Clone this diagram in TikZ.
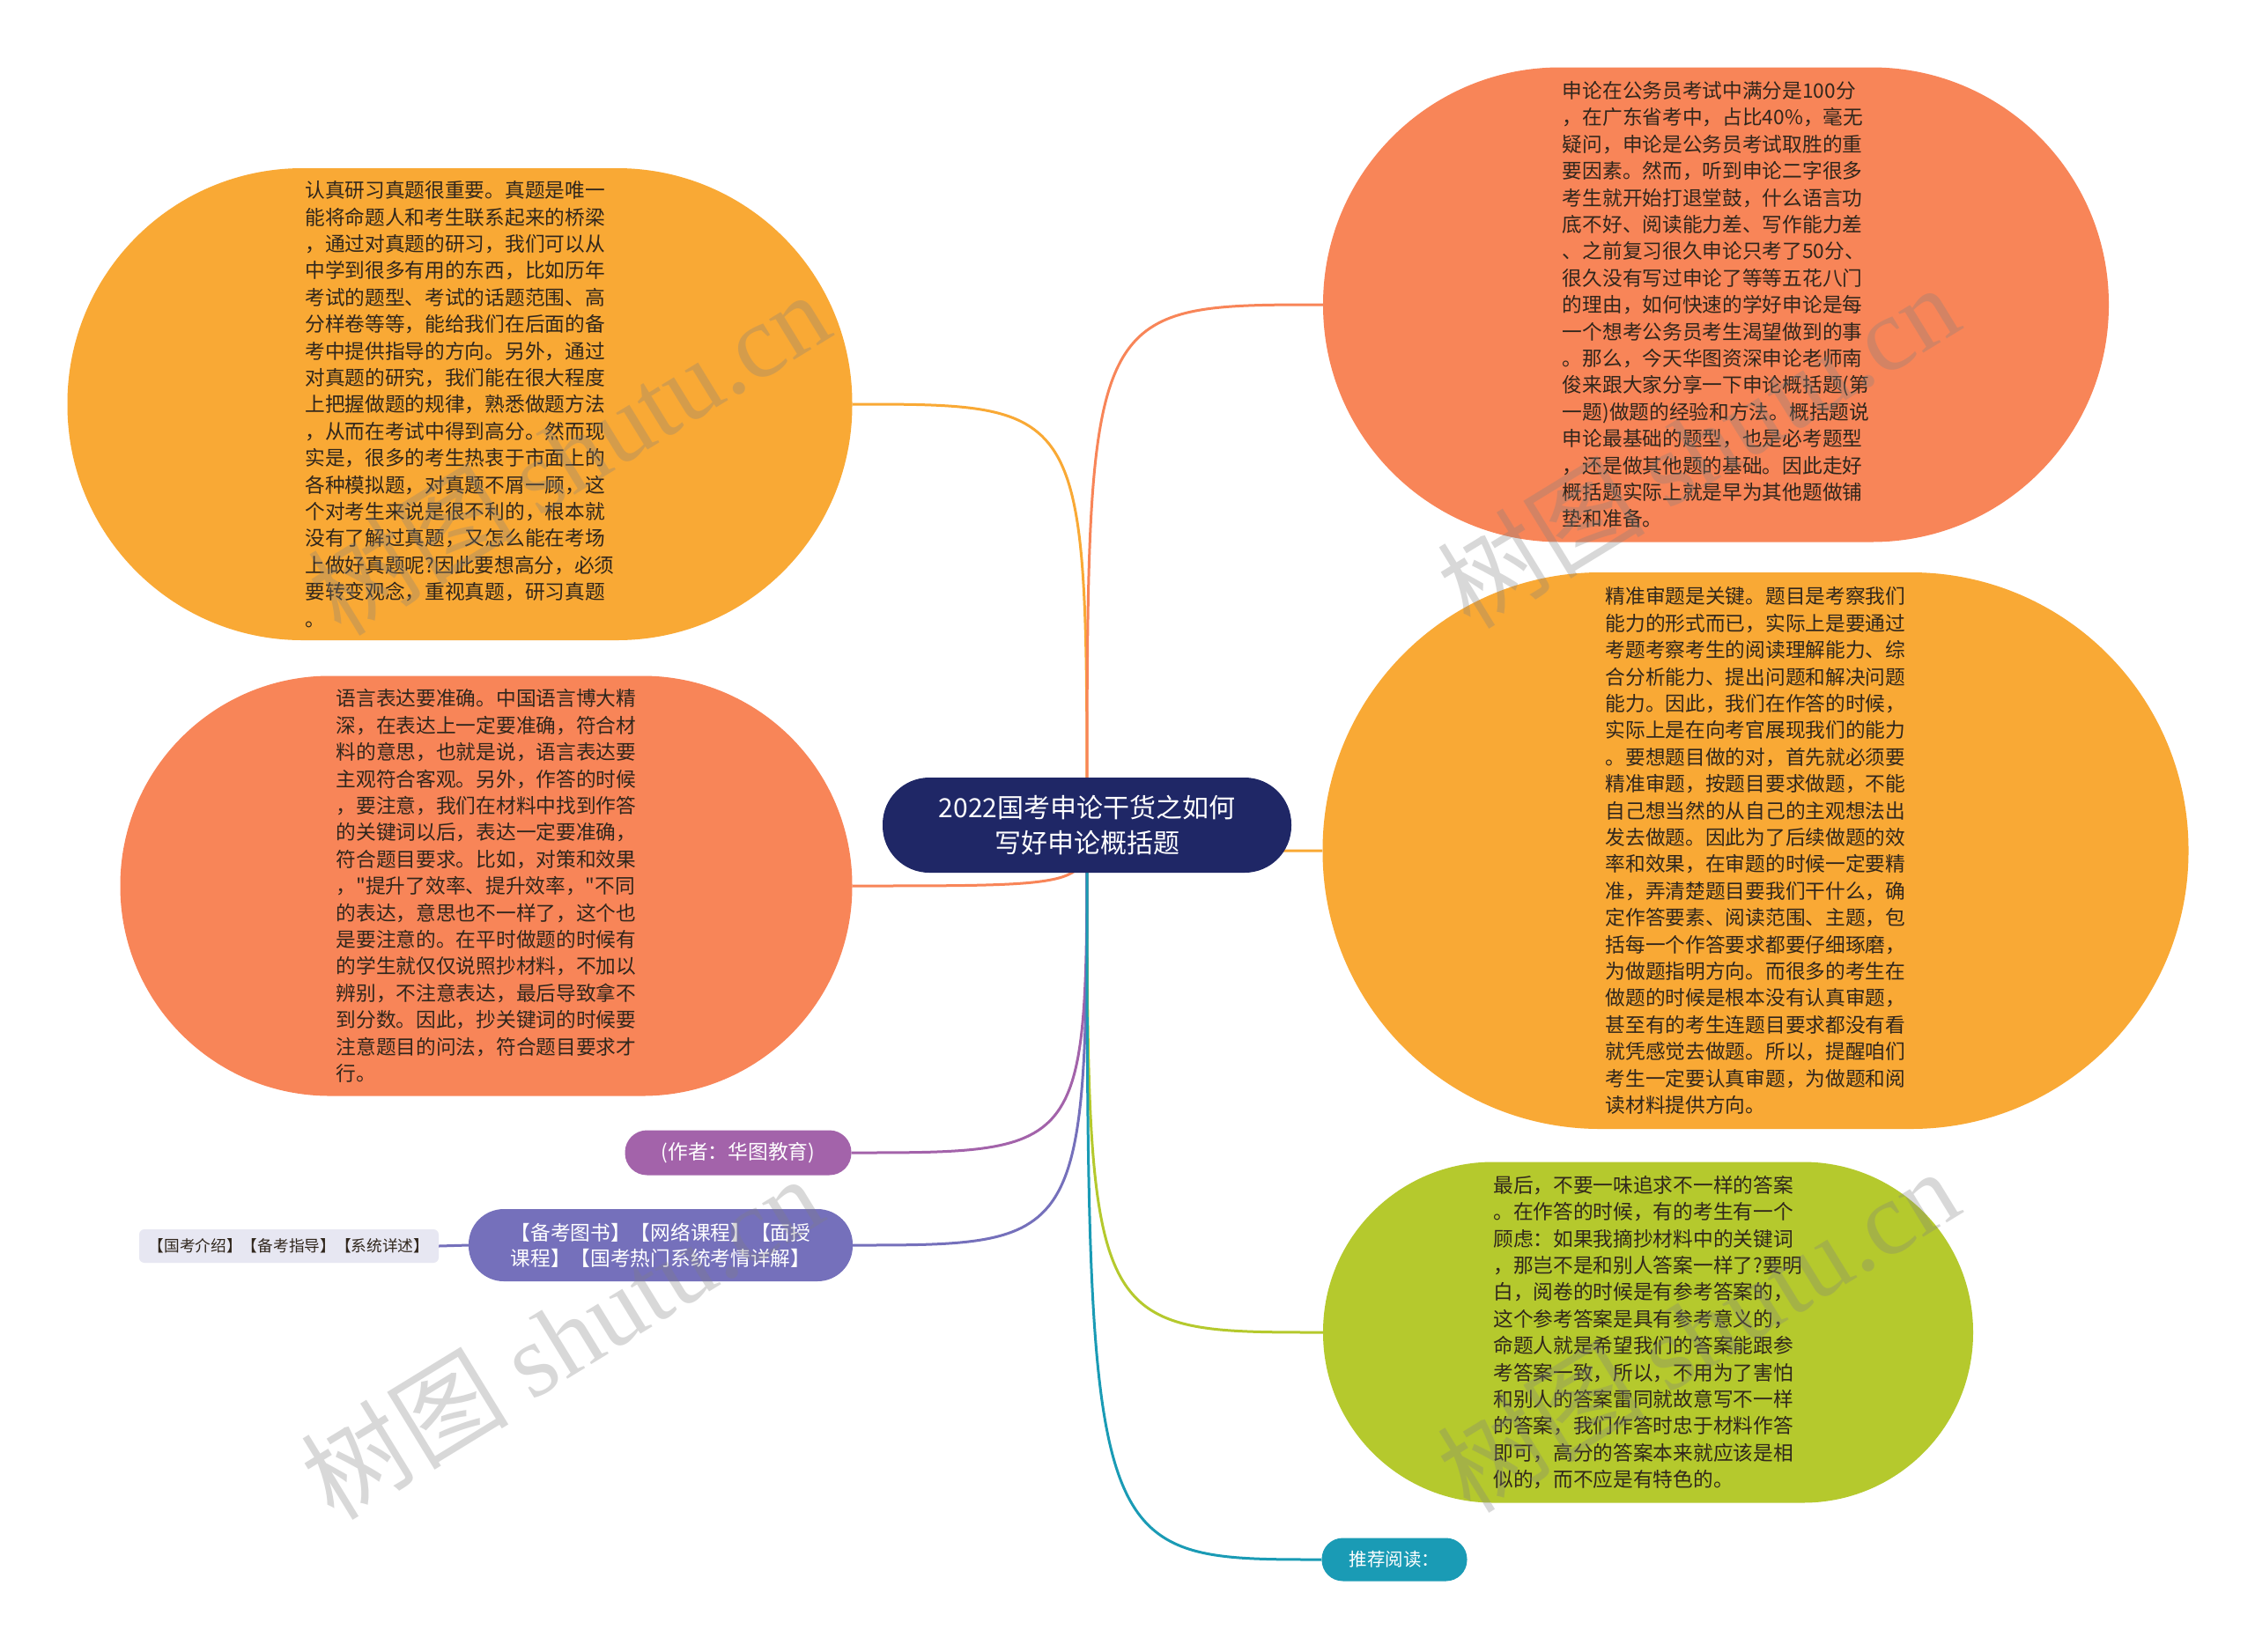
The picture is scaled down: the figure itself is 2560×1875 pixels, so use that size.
\documentclass[tikz,border=0pt]{standalone}
\usepackage{fontspec}
\setmainfont{Noto Sans CJK SC}[Ligatures=TeXOff]
\newfontfamily\wmlatin{Liberation Serif}
\definecolor{cRoot}{RGB}{31,39,102}
\definecolor{cOrange}{RGB}{249,169,53}
\definecolor{cSalmon}{RGB}{248,133,88}
\definecolor{cPurple}{RGB}{163,99,170}
\definecolor{cBlue}{RGB}{117,112,187}
\definecolor{cLeaf}{RGB}{231,231,242}
\definecolor{cGreen}{RGB}{181,201,45}
\definecolor{cTeal}{RGB}{26,155,181}
\definecolor{textc}{RGB}{48,38,28}
\pgfdeclarelayer{bg}
\pgfsetlayers{bg,main}
\begin{document}
\begin{tikzpicture}[x=1pt,y=-1pt,
  bigtxt/.style={font=\fontsize{22.7pt}{30.4pt}\selectfont, text=textc, align=left, inner sep=0pt},
  bub/.style={fill=#1, inner sep=0pt},
  conn/.style={line width=3pt, draw=#1},
  wm/.style={rotate=31.5, opacity=0.3, text=gray, font=\fontsize{118pt}{118pt}\selectfont},
]
\useasboundingbox (0,0) rectangle (2560,1875);

% root
\node[bub=cRoot, rounded corners=53pt, minimum width=464pt, minimum height=108pt,
  text=white, align=center, font=\fontsize{30pt}{40pt}\selectfont] (root) at (1234,937)
  {2022国考申论干货之如何\\写好申论概括题};

% top-left
\node[bub=cOrange, rounded corners=267pt, minimum width=891pt, minimum height=536pt, bigtxt] (tl) at (522,459)
{认真研习真题很重要。真题是唯一\\
能将命题人和考生联系起来的桥梁\\
，通过对真题的研习，我们可以从\\
中学到很多有用的东西，比如历年\\
考试的题型、考试的话题范围、高\\
分样卷等等，能给我们在后面的备\\
考中提供指导的方向。另外，通过\\
对真题的研究，我们能在很大程度\\
上把握做题的规律，熟悉做题方法\\
，从而在考试中得到高分。然而现\\
实是，很多的考生热衷于市面上的\\
各种模拟题，对真题不屑一顾，这\\
个对考生来说是很不利的，根本就\\
没有了解过真题，又怎么能在考场\\
上做好真题呢?因此要想高分，必须\\
要转变观念，重视真题，研习真题\\
。};

% left-middle
\node[bub=cSalmon, rounded corners=238pt, minimum width=831pt, minimum height=477pt, bigtxt] (lm) at (552,1006)
{语言表达要准确。中国语言博大精\\
深，在表达上一定要准确，符合材\\
料的意思，也就是说，语言表达要\\
主观符合客观。另外，作答的时候\\
，要注意，我们在材料中找到作答\\
的关键词以后，表达一定要准确，\\
符合题目要求。比如，对策和效果\\
，"提升了效率、提升效率，"不同\\
的表达，意思也不一样了，这个也\\
是要注意的。在平时做题的时候有\\
的学生就仅仅说照抄材料，不加以\\
辨别，不注意表达，最后导致拿不\\
到分数。因此，抄关键词的时候要\\
注意题目的问法，符合题目要求才\\
行。};

% top-right
\node[bub=cSalmon, rounded corners=269pt, minimum width=892pt, minimum height=539pt, bigtxt] (tr) at (1948,346)
{申论在公务员考试中满分是100分\\
，在广东省考中，占比40\%，毫无\\
疑问，申论是公务员考试取胜的重\\
要因素。然而，听到申论二字很多\\
考生就开始打退堂鼓，什么语言功\\
底不好、阅读能力差、写作能力差\\
、之前复习很久申论只考了50分、\\
很久没有写过申论了等等五花八门\\
的理由，如何快速的学好申论是每\\
一个想考公务员考生渴望做到的事\\
。那么，今天华图资深申论老师南\\
俊来跟大家分享一下申论概括题(第\\
一题)做题的经验和方法。概括题说\\
申论最基础的题型，也是必考题型\\
，还是做其他题的基础。因此走好\\
概括题实际上就是早为其他题做铺\\
垫和准备。};

% right-middle
\node[bub=cOrange, rounded corners=315pt, minimum width=983pt, minimum height=632pt, bigtxt] (rm) at (1993,966)
{精准审题是关键。题目是考察我们\\
能力的形式而已，实际上是要通过\\
考题考察考生的阅读理解能力、综\\
合分析能力、提出问题和解决问题\\
能力。因此，我们在作答的时候，\\
实际上是在向考官展现我们的能力\\
。要想题目做的对，首先就必须要\\
精准审题，按题目要求做题，不能\\
自己想当然的从自己的主观想法出\\
发去做题。因此为了后续做题的效\\
率和效果，在审题的时候一定要精\\
准，弄清楚题目要我们干什么，确\\
定作答要素、阅读范围、主题，包\\
括每一个作答要求都要仔细琢磨，\\
为做题指明方向。而很多的考生在\\
做题的时候是根本没有认真审题，\\
甚至有的考生连题目要求都没有看\\
就凭感觉去做题。所以，提醒咱们\\
考生一定要认真审题，为做题和阅\\
读材料提供方向。};

% right-bottom green
\node[bub=cGreen, rounded corners=193pt, minimum width=738pt, minimum height=387pt, bigtxt] (gr) at (1871,1513)
{最后，不要一味追求不一样的答案\\
。在作答的时候，有的考生有一个\\
顾虑：如果我摘抄材料中的关键词\\
，那岂不是和别人答案一样了?要明\\
白，阅卷的时候是有参考答案的，\\
这个参考答案是具有参考意义的，\\
命题人就是希望我们的答案能跟参\\
考答案一致，所以，不用为了害怕\\
和别人的答案雷同就故意写不一样\\
的答案，我们作答时忠于材料作答\\
即可，高分的答案本来就应该是相\\
似的，而不应是有特色的。};

% author
\node[bub=cPurple, rounded corners=25pt, minimum width=257pt, minimum height=51pt,
  text=white, font=\fontsize{22.7pt}{28pt}\selectfont] (au) at (838,1309) {(作者：华图教育)};

% courses
\node[bub=cBlue, rounded corners=40pt, minimum width=436pt, minimum height=82pt,
  text=white, align=center, font=\fontsize{22.7pt}{29.4pt}\selectfont] (cs) at (750,1414)
  {【备考图书】【网络课程】【面授\\课程】【国考热门系统考情详解】};

% leaf
\node[bub=cLeaf, rounded corners=6pt, minimum width=340pt, minimum height=38pt,
  text=textc, font=\fontsize{17.7pt}{20pt}\selectfont] (lf) at (328,1415) {【国考介绍】【备考指导】【系统详述】};

% recommended
\node[bub=cTeal, rounded corners=24pt, minimum width=165pt, minimum height=49pt,
  text=white, font=\fontsize{20.5pt}{24pt}\selectfont] (rec) at (1583,1771) {推荐阅读：};

\begin{pgfonlayer}{bg}
\fill[white] (0,0) rectangle (2560,1875);
\draw[conn=cOrange] (root.center) .. controls (root.center |- tl.east) .. (tl.east);
\draw[conn=cSalmon] (root.center) .. controls (root.center |- lm.east) .. (lm.east);
\draw[conn=cSalmon] (root.center) .. controls (root.center |- tr.west) .. (tr.west);
\draw[conn=cOrange] (root.center) .. controls (root.center |- rm.west) .. (rm.west);
\draw[conn=cGreen] (root.center) .. controls (root.center |- gr.west) .. (gr.west);
\draw[conn=cPurple] (root.center) .. controls (root.center |- au.east) .. (au.east);
\draw[conn=cBlue] (root.center) .. controls (root.center |- cs.east) .. (cs.east);
\draw[conn=cTeal] (root.center) .. controls (root.center |- rec.west) .. (rec.west);
\draw[conn=cBlue] (lf.east) -- (cs.west);
\end{pgfonlayer}

% watermarks
\node[wm] (wm1) at (645,514) {树图 {\wmlatin shutu.cn}};
\node[wm] (wm2) at (1927,506) {树图 {\wmlatin shutu.cn}};
\node[wm] (wm3) at (637,1518) {树图 {\wmlatin shutu.cn}};
\node[wm] (wm4) at (1927,1510) {树图 {\wmlatin shutu.cn}};
\end{tikzpicture}
\end{document}
